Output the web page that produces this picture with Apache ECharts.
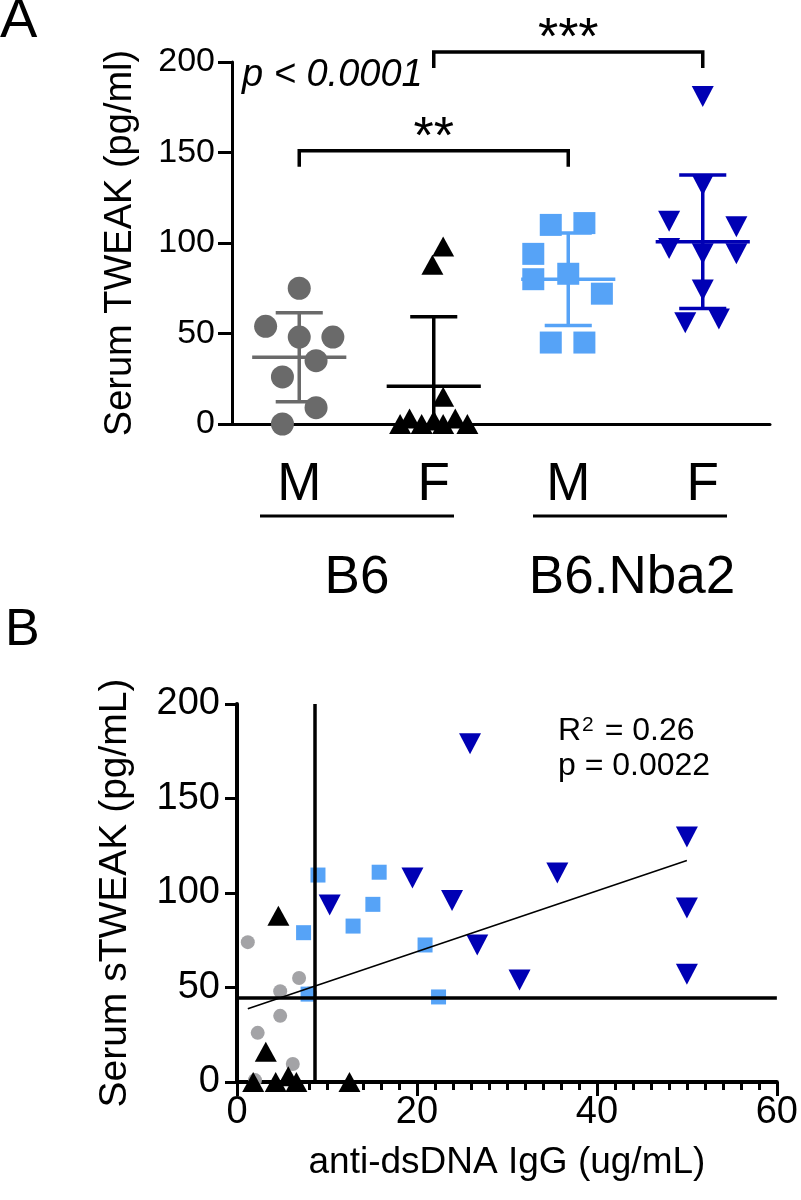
<!DOCTYPE html>
<html>
<head>
<meta charset="utf-8">
<script src="https://cdn.jsdelivr.net/npm/echarts@6/dist/echarts.min.js"></script>
<style>
html,body{margin:0;padding:0;background:#fff;}
#main{width:801px;height:1200px;}
</style>
</head>
<body>
<div id="main"></div>
<script>
// ---- panel A: serum TWEAK, scatter dot plot (mean +/- SD) ----
var sexLabels = ['M', 'F', 'M', 'F'];
var strainLabels = ['B6', 'B6.Nba2'];
// values per group, and horizontal spread inside the column (category units)
var b6M = [75, 54, 48, 48, 35, 26, 9, 0];
var b6MJit = [0, -0.25, 0, 0.25, 0.125, -0.125, 0.125, -0.125];
var b6F = [98, 88, 15, 0, 3, 0, 2, 0, 3, 0];
var b6FJit = [0.07, -0.01, 0.07, -0.25, -0.18, -0.09, 0, 0.07, 0.16, 0.25];
var nbaM = [110, 111, 94, 80, 83, 72, 45, 45];
var nbaMJit = [-0.13, 0.12, -0.26, -0.26, 0, 0.25, -0.13, 0.12];
var nbaF = [181, 132, 112, 109, 97, 94, 94, 74, 56, 58];
var nbaFJit = [0, 0, -0.25, 0.25, -0.25, 0, 0.25, 0, -0.13, 0.12];
// significance brackets: from group, to group, height, label
var brackets = [[0, 2, 151, '**'], [1, 3, 205.5, '***']];

// ---- panel B: sTWEAK vs anti-dsDNA ----
var grayX = [1.2, 6.9, 4.8, 8.1, 4.8, 2.3, 6.2, 2.0];
var grayY = [74, 55, 48, 47, 35, 26, 9.5, 1];
var blackX = [4.6, 3.2, 1.8, 4.3, 5.7, 6.6, 12.5];
var blackY = [88, 16, 0, 0, 3, 0, 0];
var lblueX = [9.0, 15.8, 15.1, 12.9, 7.4, 20.9, 7.9, 22.4];
var lblueY = [109.5, 111, 94, 82.5, 79, 72.5, 46.5, 45];
var dblueX = [25.9, 10.3, 19.5, 23.9, 26.7, 31.4, 35.6, 50, 50, 50];
var dblueY = [179, 93.6, 108, 96, 72.5, 54, 110.6, 129.6, 92, 57];
var cutoffX = 8.6;
var cutoffY = 44.5;

var FONT = '"Liberation Sans", Arial, Helvetica, sans-serif';
var colGrayA = '#6a6a6a', colGrayB = '#a3a3a6', colBlack = '#000000';
var colLBlue = '#56a3f7', colDBlue = '#0000b4';

function meanSd(a) {
    var m = a.reduce(function (s, v) { return s + v; }, 0) / a.length;
    var ss = a.reduce(function (s, v) { return s + (v - m) * (v - m); }, 0);
    return [m, Math.sqrt(ss / (a.length - 1))];
}
function zip(xs, ys) { return xs.map(function (x, i) { return [x, ys[i]]; }); }
function spread(g, vals, jit) { return vals.map(function (v, i) { return [g + 0.5 + jit[i], v]; }); }

// least squares fit over all points of panel B
var allX = grayX.concat(blackX, lblueX, dblueX);
var allY = grayY.concat(blackY, lblueY, dblueY);
var mx = allX.reduce(function (s, v) { return s + v; }, 0) / allX.length;
var my = allY.reduce(function (s, v) { return s + v; }, 0) / allY.length;
var sxy = 0, sxx = 0;
allX.forEach(function (x, i) { sxy += (x - mx) * (allY[i] - my); sxx += (x - mx) * (x - mx); });
var slope = sxy / sxx, icpt = my - slope * mx;
var xLo = Math.min.apply(null, allX), xHi = Math.max.apply(null, allX);
var fitLine = [[xLo, icpt + slope * xLo], [xHi, icpt + slope * xHi]];

function errRender(params, api) {
    var x = api.value(0), m = api.value(1), sd = api.value(2);
    var lo = Math.max(0, m - sd), hi = m + sd;
    var st = {stroke: api.visual('color'), lineWidth: 3.5, fill: null};
    function seg(x1, y1, x2, y2) {
        var a = api.coord([x1, y1]), b = api.coord([x2, y2]);
        return {type: 'line', shape: {x1: a[0], y1: a[1], x2: b[0], y2: b[1]}, style: st};
    }
    var kids = [
        seg(x - 0.35, m, x + 0.35, m),
        seg(x, lo, x, hi),
        seg(x - 0.175, hi, x + 0.175, hi)
    ];
    if (m - sd > 0) kids.push(seg(x - 0.175, lo, x + 0.175, lo));
    return {type: 'group', children: kids};
}

function bracketRender(params, api) {
    var b = brackets[params.dataIndex];
    var a = api.coord([b[0] + 0.5, b[2]]), e = api.coord([b[1] + 0.5, b[2]]);
    var drop = 16;
    return {type: 'group', children: [
        {type: 'polyline', shape: {points: [[a[0], a[1] + drop], [a[0], a[1]], [e[0], e[1]], [e[0], e[1] + drop]]},
         style: {stroke: '#000', lineWidth: 3.5, fill: null}},
        {type: 'text', x: (a[0] + e[0]) / 2, y: a[1] - 12,
         style: {text: b[3], fill: '#000', font: '52px ' + FONT, textAlign: 'center', textVerticalAlign: 'middle'}}
    ]};
}

var groupsA = [b6M, b6F, nbaM, nbaF];
var statsA = groupsA.map(function (g, i) { var s = meanSd(g); return [i + 0.5, s[0], s[1]]; });
var colorsA = [colGrayA, colBlack, colLBlue, colDBlue];

var myChart = echarts.init(document.getElementById('main'));
var axisLineSt = {show: true, lineStyle: {color: '#000', width: 3}};
var option = {
    animation: false,
    backgroundColor: '#fff',
    textStyle: {fontFamily: FONT},
    grid: [
        {left: 232, top: 62, width: 538, height: 362},
        {left: 237, top: 704, width: 543, height: 378}
    ],
    xAxis: [
        {gridIndex: 0, type: 'category', data: sexLabels, boundaryGap: true,
         axisLine: axisLineSt,
         axisTick: {alignWithLabel: true, length: 14, lineStyle: {width: 3, color: '#000'}},
         axisLabel: {fontSize: 53, color: '#000', margin: 35, fontFamily: FONT}},
        {gridIndex: 0, type: 'value', min: 0, max: 4, show: false},
        {gridIndex: 1, type: 'value', min: 0, max: 60, interval: 20,
         name: 'anti-dsDNA IgG (ug/mL)', nameLocation: 'middle', nameGap: 62,
         nameTextStyle: {fontSize: 37, color: '#000', fontFamily: FONT},
         axisLine: {show: true, onZero: false, lineStyle: {color: '#000', width: 4}},
         axisTick: {show: true, length: 14, lineStyle: {width: 3, color: '#000'}},
         minorTick: {show: true, splitNumber: 10, length: 8, lineStyle: {width: 3, color: '#000'}},
         splitLine: {show: false},
         axisLabel: {fontSize: 38, color: '#000', margin: 12, fontFamily: FONT}}
    ],
    yAxis: [
        {gridIndex: 0, type: 'value', min: 0, max: 200, interval: 50,
         name: 'Serum TWEAK (pg/ml)', nameLocation: 'middle', nameGap: 92, nameRotate: 90,
         nameTextStyle: {fontSize: 38, color: '#000', fontFamily: FONT},
         axisLine: axisLineSt,
         axisTick: {show: true, length: 14, lineStyle: {width: 3, color: '#000'}},
         splitLine: {show: false},
         axisLabel: {fontSize: 34, color: '#000', margin: 17, fontFamily: FONT}},
        {gridIndex: 1, type: 'value', min: 0, max: 200, interval: 50,
         name: 'Serum sTWEAK (pg/mL)', nameLocation: 'middle', nameGap: 102, nameRotate: 90,
         nameTextStyle: {fontSize: 39, color: '#000', fontFamily: FONT},
         axisLine: {show: true, onZero: false, lineStyle: {color: '#000', width: 4}},
         axisTick: {show: true, length: 12, lineStyle: {width: 3, color: '#000'}},
         splitLine: {show: false},
         axisLabel: {fontSize: 38, color: '#000', margin: 17, fontFamily: FONT}}
    ],
    graphic: [
        {type: 'text', x: 0, y: 22, style: {text: 'A', font: '56px ' + FONT, fill: '#000', textVerticalAlign: 'middle'}},
        {type: 'text', x: 5, y: 631, style: {text: 'B', font: '52px ' + FONT, fill: '#000', textVerticalAlign: 'middle'}},
        {type: 'text', x: 242, y: 75, style: {text: 'p < 0.0001', font: 'italic 38px ' + FONT, fill: '#000', textVerticalAlign: 'middle'}},
        {type: 'line', shape: {x1: 260, y1: 516, x2: 454, y2: 516}, style: {stroke: '#000', lineWidth: 3}},
        {type: 'line', shape: {x1: 533, y1: 516, x2: 727, y2: 516}, style: {stroke: '#000', lineWidth: 3}},
        {type: 'text', x: 357, y: 578, style: {text: strainLabels[0], font: '53px ' + FONT, fill: '#000', textAlign: 'center', textVerticalAlign: 'middle'}},
        {type: 'text', x: 632, y: 578, style: {text: strainLabels[1], font: '53px ' + FONT, fill: '#000', textAlign: 'center', textVerticalAlign: 'middle'}},
        {type: 'text', x: 558, y: 731, style: {text: '{a|R}{s|2}{a| = 0.26}', textVerticalAlign: 'middle', fill: '#000',
            rich: {a: {fontSize: 32, fontFamily: FONT, fill: '#000', color: '#000'},
                   s: {fontSize: 21, fontFamily: FONT, fill: '#000', color: '#000', verticalAlign: 'top', padding: [0, 2, 0, 1]}}}},
        {type: 'text', x: 558, y: 766, style: {text: 'p = 0.0022', font: '32px ' + FONT, fill: '#000', textVerticalAlign: 'middle'}}
    ],
    series: [
        // panel A points
        {type: 'scatter', xAxisIndex: 1, yAxisIndex: 0, symbol: 'circle', symbolSize: 23,
         itemStyle: {color: colGrayA, opacity: 1}, data: spread(0, b6M, b6MJit)},
        {type: 'scatter', xAxisIndex: 1, yAxisIndex: 0, symbol: 'triangle', symbolSize: [22, 20],
         itemStyle: {color: colBlack, opacity: 1}, data: spread(1, b6F, b6FJit)},
        {type: 'scatter', xAxisIndex: 1, yAxisIndex: 0, symbol: 'rect', symbolSize: 22,
         itemStyle: {color: colLBlue, opacity: 1}, data: spread(2, nbaM, nbaMJit)},
        {type: 'scatter', xAxisIndex: 1, yAxisIndex: 0, symbol: 'triangle', symbolRotate: 180, symbolSize: [22, 21],
         itemStyle: {color: colDBlue, opacity: 1}, data: spread(3, nbaF, nbaFJit)}
    ].concat(statsA.map(function (s, i) {
        return {type: 'custom', xAxisIndex: 1, yAxisIndex: 0, z: 3, silent: true,
                itemStyle: {color: colorsA[i]}, renderItem: errRender, data: [s]};
    })).concat([
        {type: 'custom', xAxisIndex: 1, yAxisIndex: 0, silent: true, clip: false,
         renderItem: bracketRender, data: brackets.map(function (b) { return [b[0], b[2]]; })},
        // panel B points
        {type: 'scatter', xAxisIndex: 2, yAxisIndex: 1, symbol: 'circle', symbolSize: 14,
         itemStyle: {color: colGrayB, opacity: 1}, data: zip(grayX, grayY)},
        {type: 'scatter', xAxisIndex: 2, yAxisIndex: 1, symbol: 'triangle', symbolSize: [22, 20],
         itemStyle: {color: colBlack, opacity: 1}, data: zip(blackX, blackY)},
        {type: 'scatter', xAxisIndex: 2, yAxisIndex: 1, symbol: 'rect', symbolSize: 15,
         itemStyle: {color: colLBlue, opacity: 1}, data: zip(lblueX, lblueY)},
        {type: 'scatter', xAxisIndex: 2, yAxisIndex: 1, symbol: 'triangle', symbolRotate: 180, symbolSize: [22, 21],
         itemStyle: {color: colDBlue, opacity: 1}, data: zip(dblueX, dblueY)},
        {type: 'line', xAxisIndex: 2, yAxisIndex: 1, showSymbol: false, symbol: 'none', z: 4,
         lineStyle: {color: '#000', width: 1.6}, data: fitLine},
        {type: 'line', xAxisIndex: 2, yAxisIndex: 1, data: [], z: 5,
         markLine: {silent: true, symbol: 'none', label: {show: false}, animation: false,
                    lineStyle: {color: '#000', width: 3.5, type: 'solid'},
                    data: [{xAxis: cutoffX}, {yAxis: cutoffY}]}}
    ])
};
myChart.setOption(option);
</script>
</body>
</html>
